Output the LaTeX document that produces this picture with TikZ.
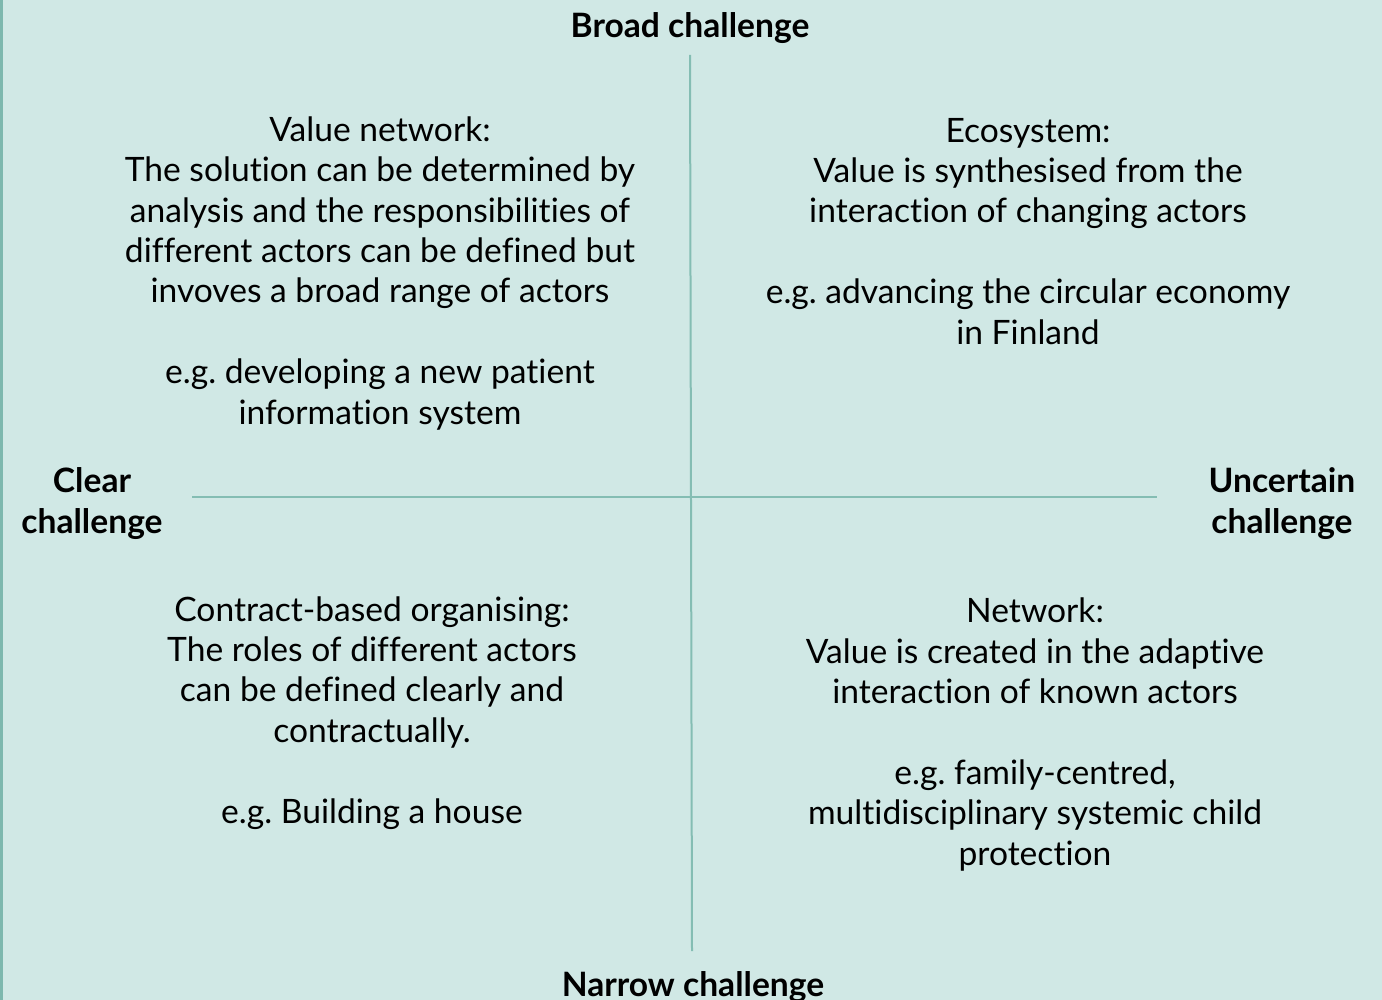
\documentclass[tikz,border=0pt]{standalone}
\usepackage{fontspec}
\setmainfont{Lato}[Ligatures=NoCommon]
\usepackage{tikz}
\frenchspacing

\definecolor{bgteal}{HTML}{D0E8E5}
\definecolor{lineteal}{HTML}{84BDB3}
\definecolor{edgeteal}{HTML}{7DB8AE}

\begin{document}
\begin{tikzpicture}[x = 0.5pt, y = -0.5pt,
                    quad/.style = {align = center, anchor = base, font = \fontsize{16.8}{20.2}\selectfont},
                    axislabel/.style = {align = center, anchor = base, font = \fontsize{16.8}{20.2}\selectfont\bfseries},
                    divider/.style = {draw = lineteal, line width = 1pt}]
  \fill [bgteal] (0, 0) rectangle (1382, 1000);
  \useasboundingbox (0, 0) rectangle (1382, 1000);
  \draw [edgeteal, line width = 1.5pt] (1.5, 0) -- (1.5, 1000);

  \coordinate (top) at (690, 55);
  \coordinate (bottom) at (692, 951);
  \coordinate (left) at (192, 497);
  \coordinate (right) at (1157, 497);

  \draw [divider] (top) -- (bottom);
  \draw [divider] (left) -- (right);

  % base anchor sits on the last line
  \node [axislabel] (broad) at (690, 38) {Broad challenge};
  \node [axislabel] (narrow) at (693, 996) {Narrow challenge};
  \node [axislabel] (clear) at (92, 533) {Clear\\challenge};
  \node [axislabel] (uncertain) at (1282, 533) {Uncertain\\challenge};

  \node [quad] (valnet) at (380, 424) {Value network:\\
    The solution can be determined by\\
    analysis and the responsibilities of\\
    different actors can be defined but\\
    invoves a broad range of actors\\[20.2pt]
    e.g. developing a new patient\\
    information system};
  \node [quad] (ecosys) at (1028, 344) {Ecosystem:\\
    Value is synthesised from the\\
    interaction of changing actors\\[20.2pt]
    e.g. advancing the circular economy\\
    in Finland};
  \node [quad] (contract) at (372, 823) {Contract-based organising:\\
    The roles of different actors\\
    can be defined clearly and\\
    contractually.\\[20.2pt]
    e.g. Building a house};
  \node [quad] (network) at (1035, 865) {Network:\\
    Value is created in the adaptive\\
    interaction of known actors\\[20.2pt]
    e.g. family-centred,\\
    multidisciplinary systemic child\\
    protection};
\end{tikzpicture}
\end{document}
